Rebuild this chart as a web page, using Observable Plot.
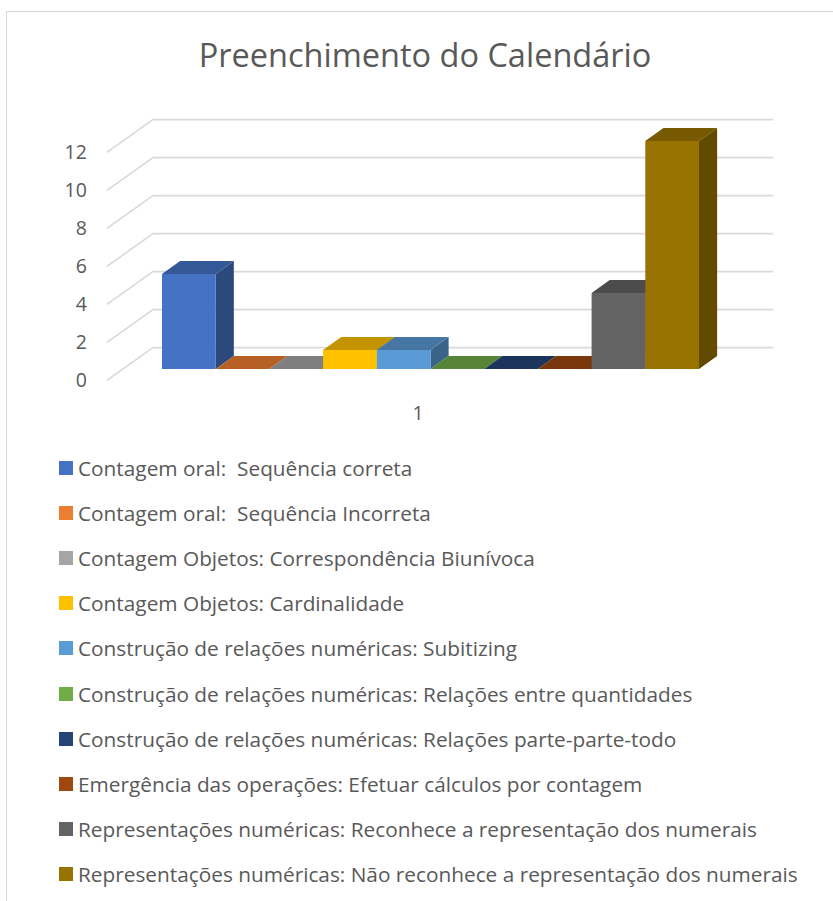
<!DOCTYPE html>
<html>
<head>
<meta charset="utf-8">
<script src="https://cdn.jsdelivr.net/npm/d3@7"></script>
<script src="https://cdn.jsdelivr.net/npm/@observablehq/plot@0.6"></script>
<style>
  html, body { margin: 0; padding: 0; background: #fff; }
  body { width: 833px; height: 901px; position: relative; overflow: hidden; font-family: "Open Sans", Lato, sans-serif; color: #595959; }
  #frame { position: absolute; left: 6px; top: 11px; width: 900px; height: 960px; border-left: 1.5px solid #d9d9d9; border-top: 1.5px solid #d9d9d9; }
  #title { position: absolute; left: 7px; width: 836px; top: 33px; text-align: center; font-size: 32.5px; line-height: 44px; }
  #chart { position: absolute; left: 0; top: 90px; }
  #legend { position: absolute; left: 59px; top: 445px; }
  .item { height: 45.2px; display: flex; align-items: center; font-size: 20.8px; white-space: nowrap; }
  .sw { width: 14px; height: 14px; margin-right: 5px; flex: none; }
</style>
</head>
<body>
<div id="frame"></div>
<div id="title"></div>
<div id="chart"></div>
<div id="legend"></div>
<script>
const title = "Preenchimento do Calendário";
const category = "1";
const seriesNames = [
  "Contagem oral:  Sequência correta",
  "Contagem oral:  Sequência Incorreta",
  "Contagem Objetos: Correspondência Biunívoca",
  "Contagem Objetos: Cardinalidade",
  "Construção de relações numéricas: Subitizing",
  "Construção de relações numéricas: Relações entre quantidades",
  "Construção de relações numéricas: Relações parte-parte-todo",
  "Emergência das operações: Efetuar cálculos por contagem",
  "Representações numéricas: Reconhece a representação dos numerais",
  "Representações numéricas: Não reconhece a representação dos numerais"
];
const seriesValues = [5, 0, 0, 1, 1, 0, 0, 0, 4, 12];
const seriesColors = ["#4472C4", "#ED7D31", "#A5A5A5", "#FFC000", "#5B9BD5", "#70AD47", "#264478", "#9E480E", "#636363", "#997300"];
const yTicks = [0, 2, 4, 6, 8, 10, 12];

// 3D projection constants (in data units): depth vector of the floor
const depthX = 0.857, depthY = 1.728;
const barDepth = 13 / 33, frontGap = 11 / 33, backGap = 1 - frontGap; // fractions of depth
const bdx = depthX * barDepth, bdy = depthY * barDepth;
const wallL = -0.75, wallR = 10.81;

const shade = (c, k) => { const o = d3.rgb(c); return d3.rgb(o.r * k, o.g * k, o.b * k).formatHex(); };

const bars = seriesValues.map((v, i) => ({name: seriesNames[i], value: v, color: seriesColors[i], i}));

const sideMarks = bars.map(b => Plot.areaY(
  [{x: b.i + 1, y1: 0, y2: b.value}, {x: b.i + 1 + bdx, y1: bdy, y2: b.value + bdy}],
  {x: "x", y1: "y1", y2: "y2", fill: shade(b.color, 0.64), curve: "linear"}
));
const topMarks = bars.map(b => Plot.areaX(
  [{y: b.value, x1: b.i, x2: b.i + 1}, {y: b.value + bdy, x1: b.i + bdx, x2: b.i + 1 + bdx}],
  {y: "y", x1: "x1", x2: "x2", fill: shade(b.color, 0.77), curve: "linear"}
));
const frontMarks = [Plot.rectY(bars, {x1: d => d.i, x2: d => d.i + 1, y1: 0, y2: "value", fill: "color"})];

const gridColor = "#d9d9d9";
const chart = Plot.plot({
  width: 833,
  height: 340,
  marginLeft: 162,
  marginRight: 134,
  marginTop: 51,
  marginBottom: 61,
  x: {domain: [0, seriesValues.length], axis: null},
  y: {domain: [0, 12], axis: null},
  color: {type: "identity"},
  style: {fontFamily: "'Open Sans', Lato, sans-serif", fontSize: "19px", color: "#595959", background: "transparent"},
  marks: [
    Plot.ruleY(yTicks, {y: t => t + depthY * backGap, x1: wallL + depthX * backGap, x2: wallR + depthX * backGap, stroke: gridColor, strokeWidth: 1.6}),
    Plot.link(yTicks, {x1: wallL - depthX * frontGap, y1: t => t - depthY * frontGap, x2: wallL + depthX * backGap, y2: t => t + depthY * backGap, stroke: gridColor, strokeWidth: 1.6}),
    ...sideMarks,
    ...topMarks,
    ...frontMarks,
    Plot.text(yTicks, {x: wallL - depthX * frontGap, y: t => t - depthY * frontGap, text: d => String(d), textAnchor: "end", dx: -20, fill: "#595959", fontSize: 19.5}),
    Plot.text([category], {x: seriesValues.length / 2, y: 0, text: d => d, dx: -13, dy: 44, fill: "#595959", fontSize: 19.5})
  ]
});
document.getElementById("chart").appendChild(chart);
document.getElementById("title").textContent = title;

const legend = document.getElementById("legend");
bars.forEach(b => {
  const item = document.createElement("div");
  item.className = "item";
  const sw = document.createElement("span");
  sw.className = "sw";
  sw.style.background = b.color;
  const t = document.createElement("span");
  t.textContent = b.name;
  t.style.whiteSpace = "pre";
  item.appendChild(sw);
  item.appendChild(t);
  legend.appendChild(item);
});
</script>
</body>
</html>
